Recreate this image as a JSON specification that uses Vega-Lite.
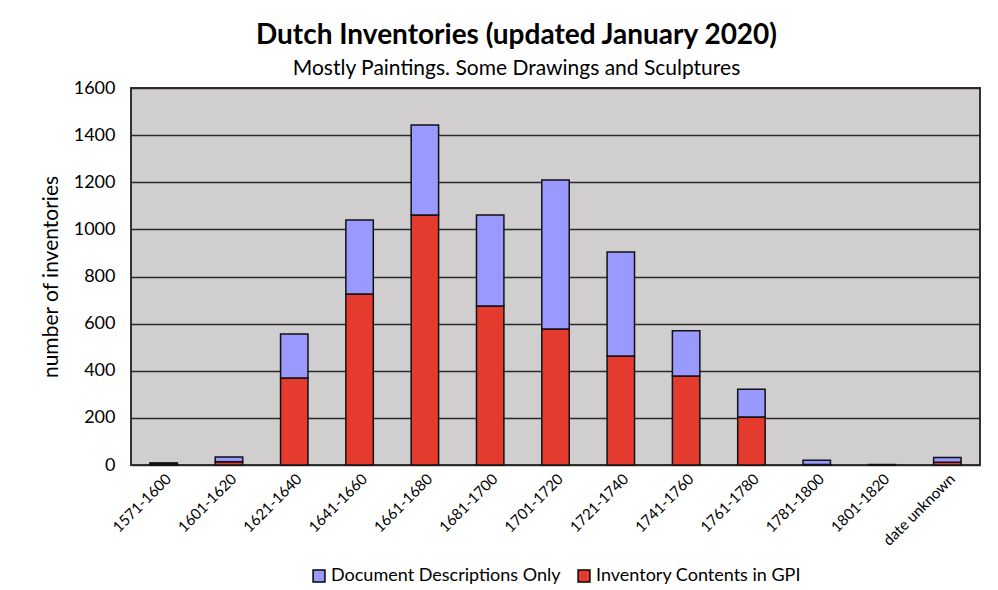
{
  "$schema": "https://vega.github.io/schema/vega-lite/v6.json",
  "width": 849,
  "height": 377,
  "autosize": {"type": "none"},
  "padding": {"left": 131, "top": 88, "right": 18, "bottom": 125},
  "background": "white",
  "title": {
    "text": "Dutch Inventories (updated January 2020)",
    "subtitle": "Mostly Paintings. Some Drawings and Sculptures",
    "anchor": "middle",
    "dx": -39,
    "offset": 0,
    "font": "Lato",
    "fontSize": 28,
    "fontWeight": "bold",
    "color": "black",
    "subtitleFont": "Lato",
    "subtitleFontSize": 21,
    "subtitleColor": "black",
    "subtitlePadding": 8
  },
  "data": {
    "values": [
      {"period": "1571-1600", "series": "Inventory Contents in GPI", "count": 4},
      {"period": "1571-1600", "series": "Document Descriptions Only", "count": 5},
      {"period": "1601-1620", "series": "Inventory Contents in GPI", "count": 14},
      {"period": "1601-1620", "series": "Document Descriptions Only", "count": 20},
      {"period": "1621-1640", "series": "Inventory Contents in GPI", "count": 369},
      {"period": "1621-1640", "series": "Document Descriptions Only", "count": 187},
      {"period": "1641-1660", "series": "Inventory Contents in GPI", "count": 726},
      {"period": "1641-1660", "series": "Document Descriptions Only", "count": 314},
      {"period": "1661-1680", "series": "Inventory Contents in GPI", "count": 1061},
      {"period": "1661-1680", "series": "Document Descriptions Only", "count": 382},
      {"period": "1681-1700", "series": "Inventory Contents in GPI", "count": 675},
      {"period": "1681-1700", "series": "Document Descriptions Only", "count": 386},
      {"period": "1701-1720", "series": "Inventory Contents in GPI", "count": 577},
      {"period": "1701-1720", "series": "Document Descriptions Only", "count": 633},
      {"period": "1721-1740", "series": "Inventory Contents in GPI", "count": 463},
      {"period": "1721-1740", "series": "Document Descriptions Only", "count": 441},
      {"period": "1741-1760", "series": "Inventory Contents in GPI", "count": 378},
      {"period": "1741-1760", "series": "Document Descriptions Only", "count": 192},
      {"period": "1761-1780", "series": "Inventory Contents in GPI", "count": 204},
      {"period": "1761-1780", "series": "Document Descriptions Only", "count": 118},
      {"period": "1781-1800", "series": "Inventory Contents in GPI", "count": 2},
      {"period": "1781-1800", "series": "Document Descriptions Only", "count": 18},
      {"period": "1801-1820", "series": "Inventory Contents in GPI", "count": 0},
      {"period": "1801-1820", "series": "Document Descriptions Only", "count": 2},
      {"period": "date unknown", "series": "Inventory Contents in GPI", "count": 12},
      {"period": "date unknown", "series": "Document Descriptions Only", "count": 20}
    ]
  },
  "mark": {"type": "bar", "stroke": "#111", "strokeWidth": 1.5},
  "encoding": {
    "x": {
      "field": "period",
      "type": "nominal",
      "sort": null,
      "scale": {"paddingInner": 0.58, "paddingOuter": 0.29},
      "axis": {
        "title": null,
        "labelAngle": -45,
        "labelFont": "Lato",
        "labelFontSize": 15,
        "labelColor": "black",
        "ticks": false,
        "domain": false,
        "labelPadding": 6
      }
    },
    "y": {
      "field": "count",
      "type": "quantitative",
      "stack": "zero",
      "scale": {"domain": [0, 1600], "nice": false},
      "axis": {
        "values": [0, 200, 400, 600, 800, 1000, 1200, 1400, 1600],
        "format": "d",
        "title": "number of inventories",
        "titleFont": "Lato",
        "titleFontSize": 21,
        "titleFontWeight": "normal",
        "titleColor": "black",
        "titlePadding": 12,
        "labelFont": "Lato",
        "labelFontSize": 18,
        "labelColor": "black",
        "labelPadding": 16,
        "ticks": false,
        "domain": false,
        "grid": true,
        "gridColor": "#2a2a2a",
        "gridWidth": 1.5
      }
    },
    "color": {
      "field": "series",
      "type": "nominal",
      "scale": {
        "domain": ["Document Descriptions Only", "Inventory Contents in GPI"],
        "range": ["#9999FF", "#E53B2F"]
      },
      "legend": {
        "title": null,
        "orient": "bottom",
        "direction": "horizontal",
        "offset": 18,
        "symbolType": "square",
        "symbolSize": 140,
        "symbolStrokeColor": "black",
        "symbolStrokeWidth": 1.5,
        "symbolOpacity": 1,
        "labelFont": "Lato",
        "labelFontSize": 18,
        "labelColor": "black",
        "labelLimit": 0,
        "columnPadding": 14,
        "labelOffset": 3
      }
    },
    "order": {"field": "series", "sort": "descending"}
  },
  "config": {
    "view": {"fill": "#D0CECE", "stroke": "#333", "strokeWidth": 2},
    "legend": {"layout": {"bottom": {"anchor": "middle"}}}
  }
}
